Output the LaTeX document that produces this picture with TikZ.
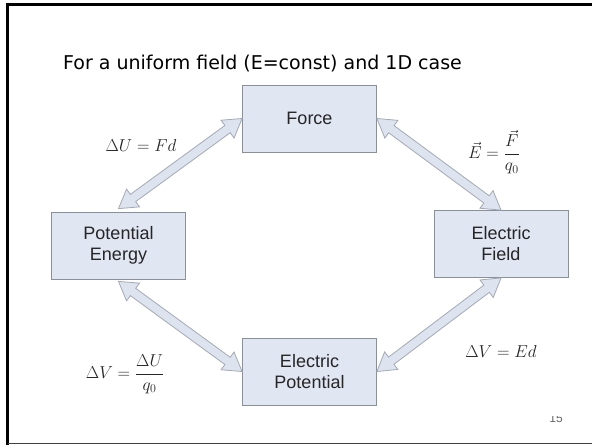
\documentclass[tikz,border=0pt]{standalone}
\usepackage{fontspec}
\usetikzlibrary{calc}
\newfontfamily\boxfont{Liberation Sans}
\newfontfamily\titlefont{DejaVu Sans}
\definecolor{boxfill}{HTML}{E0E6F2}
\definecolor{boxline}{HTML}{8A8F99}
\definecolor{arrfill}{HTML}{DDE3EF}
\definecolor{arrline}{HTML}{A3A9B6}
\definecolor{txt}{HTML}{262626}
\newcommand\ahl{18pt}
\newcommand\ahw{11pt}
\newcommand\asw{4.5pt}
\newcommand\blockarrow[2]{%
 \draw[arrowbody] (#1) -- ($(#1)!\ahl!(#2)!\ahw!90:(#2)$) -- ($(#1)!\ahl!(#2)!\asw!90:(#2)$)
 -- ($(#2)!\ahl!(#1)!\asw!-90:(#1)$) -- ($(#2)!\ahl!(#1)!\ahw!-90:(#1)$) -- (#2)
 -- ($(#2)!\ahl!(#1)!\ahw!90:(#1)$) -- ($(#2)!\ahl!(#1)!\asw!90:(#1)$)
 -- ($(#1)!\ahl!(#2)!\asw!-90:(#2)$) -- ($(#1)!\ahl!(#2)!\ahw!-90:(#2)$) -- cycle;}
\begin{document}
\begin{tikzpicture}[x=1pt,y=-1pt,
  box/.style={draw=boxline, line width=0.8pt, fill=boxfill, minimum width=134pt, minimum height=67pt,
     inner sep=0pt, align=center, text=txt, font=\boxfont\fontsize{18}{21}\selectfont},
  arrowbody/.style={draw=arrline, line width=0.8pt, fill=arrfill, line join=miter},
  eq/.style={text=txt, inner sep=0pt, font=\fontsize{18}{22}\selectfont}]
\useasboundingbox (0,0) rectangle (592,445);
\fill[white] (0,0) rectangle (592,445);
% slide frame
\draw[line width=3pt] (7.5,445) -- (7.5,4) -- (592,4);
\draw[line width=0.8pt, black!75] (7.5,443) -- (592,443);
% title
\node[anchor=west, inner sep=0pt, font=\titlefont\fontsize{19}{23}\selectfont] (title) at (63,64)
  {For a uniform field (E=const) and 1D case};
% boxes
\node[box] (force) at (309.5,118.5) {Force};
\node[box] (pe) at (118.5,245.5) {Potential\\Energy};
\node[box] (ef) at (501,244) {Electric\\Field};
\node[box] (ep) at (309.5,371.5) {Electric\\Potential};
% arrow tips
\coordinate (a1) at ([yshift=3pt]pe.north);
\coordinate (a2) at (force.west);
\coordinate (b1) at (force.east);
\coordinate (b2) at (ef.north);
\coordinate (c1) at ([yshift=-2pt]pe.south);
\coordinate (c2) at (ep.west);
\coordinate (d1) at (ef.south);
\coordinate (d2) at (ep.east);
\blockarrow{a1}{a2}
\blockarrow{b1}{b2}
\blockarrow{c1}{c2}
\blockarrow{d1}{d2}
% equations
\node[eq] (eqU) at (141,145) {$\Delta U = Fd$};
\node[eq] (eqE) at (494,152) {$\displaystyle \vec{E} = \frac{\vec{F}}{q_0}$};
\node[eq] (eqV) at (125,374) {$\displaystyle \Delta V = \frac{\Delta U}{q_0}$};
\node[eq] (eqVE) at (501,351) {$\Delta V = Ed$};
% page number (cut off)
\begin{scope}
\clip (540,416) rectangle (575,430);
\node[text=black!60, inner sep=0pt, anchor=base, font=\boxfont\fontsize{12}{14}\selectfont] (pg) at (556,422) {15};
\end{scope}
\end{tikzpicture}
\end{document}
